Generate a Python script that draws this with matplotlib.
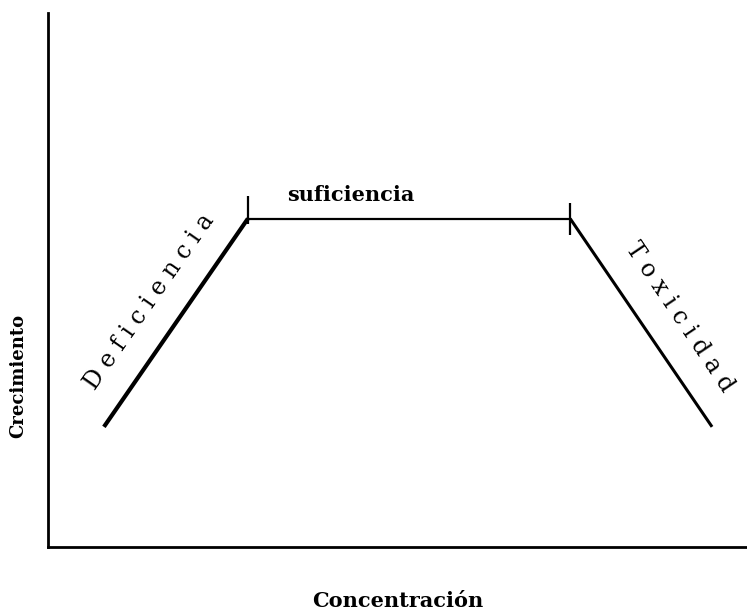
import numpy as np
import matplotlib
matplotlib.use("Agg")
import matplotlib.pyplot as plt

# curve points (concentration, growth) in arbitrary units
conc = [0.8, 2.86, 7.47, 9.5]
growth = [2.25, 6.15, 6.15, 2.25]
seg_widths = [3.0, 1.6, 2.2]

# boundaries between zones
bounds = [2.86, 7.47]

zone_labels = ["D e f i c i e n c i a", "suficiencia", "T o x i c i d a d"]
zone_x = [1.45, 4.33, 9.03]
zone_y = [4.6, 6.6, 4.3]
zone_rot = [55, 0, -56]
zone_size = [17, 15, 17]

plt.rcParams['font.family'] = ['DejaVu Serif']

fig = plt.figure(figsize=(7.47, 6.14), dpi=100)
ax = fig.add_axes([48/747, (614-547)/614, (747-48)/747, (547-13)/614])

for i in range(len(conc) - 1):
  ax.plot(conc[i:i+2], growth[i:i+2], color='black', lw=seg_widths[i],
          solid_capstyle='butt')

# small marks at the zone boundaries
ax.vlines(bounds[0], 6.15 - 0.1, 6.15 + 0.42, color='black', lw=1.6)
ax.vlines(bounds[1], 6.15 - 0.3, 6.15 + 0.3, color='black', lw=1.6)

for lab, x, y, r, fs in zip(zone_labels, zone_x, zone_y, zone_rot, zone_size):
  w = 'bold' if r == 0 else 'normal'
  ax.text(x, y, lab, rotation=r, ha='center', va='center', fontsize=fs,
          fontweight=w, rotation_mode='anchor')

ax.set_xlim(0, 10)
ax.set_ylim(0, 10)
ax.set_xticks([])
ax.set_yticks([])
for s in ['top', 'right']:
  ax.spines[s].set_visible(False)
for s in ['left', 'bottom']:
  ax.spines[s].set_linewidth(2)

ax.set_xlabel("Concentración", fontsize=15, fontweight='bold')
ax.set_ylabel("Crecimiento", fontsize=13, fontweight='bold')
ax.xaxis.set_label_coords(0.5, -0.083)
ax.yaxis.set_label_coords(-0.03, 0.32)

fig.savefig("out.png", dpi=100)
